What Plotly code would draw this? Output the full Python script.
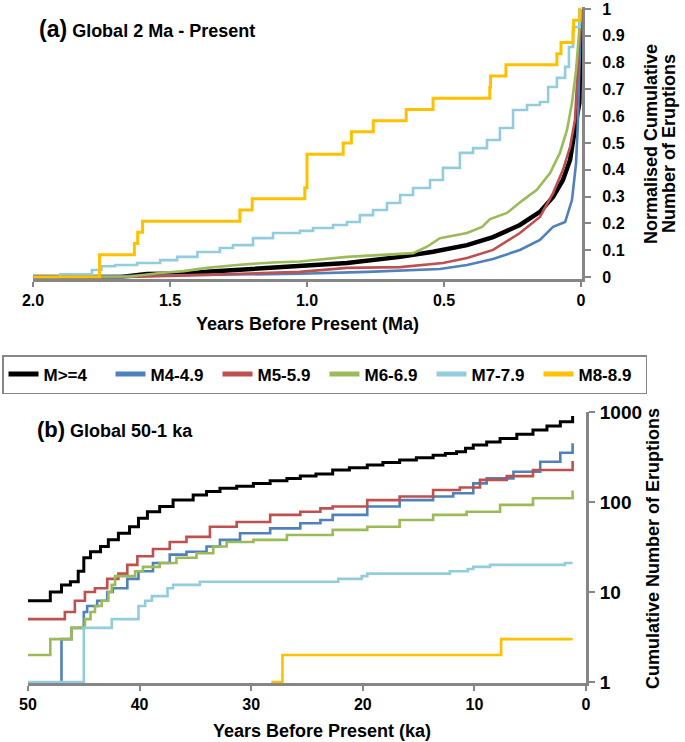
import plotly.graph_objects as go

W, H = 685, 742
FONT = "Liberation Sans, Arial, sans-serif"
GRAY = "#868686"

names = ["M>=4", "M4-4.9", "M5-5.9", "M6-6.9", "M7-7.9", "M8-8.9"]
colors = ["#000000", "#4f81bd", "#c0504d", "#9bbb59", "#93cddd", "#ffc000"]

# ---------------- (a) Global 2 Ma - Present : age (Ma), normalised cumulative ----------------
a_black_age = [2.0, 1.68, 1.584, 1.438, 1.365, 1.255, 1.124, 1.026, 0.854, 0.66, 0.54, 0.416, 0.321, 0.223, 0.15, 0.102, 0.066, 0.04, 0.022, 0.015, 0.006, 0.002, 0.0]
a_black_val = [0.0, 0.0, 0.011, 0.013, 0.02, 0.026, 0.035, 0.04, 0.052, 0.075, 0.094, 0.119, 0.149, 0.194, 0.243, 0.299, 0.362, 0.437, 0.537, 0.597, 0.65, 0.8, 1.0]

a_blue_age = [2.0, 1.755, 1.026, 0.78, 0.515, 0.416, 0.321, 0.223, 0.15, 0.102, 0.058, 0.033, 0.018, 0.011, 0.004, 0.0]
a_blue_val = [0.0, 0.003, 0.012, 0.019, 0.03, 0.045, 0.067, 0.101, 0.138, 0.187, 0.205, 0.287, 0.425, 0.586, 0.836, 1.0]

a_red_age = [2.0, 1.646, 1.365, 1.124, 1.026, 0.854, 0.66, 0.504, 0.416, 0.321, 0.223, 0.15, 0.102, 0.066, 0.04, 0.022, 0.011, 0.004, 0.0]
a_red_val = [0.0, 0.0, 0.008, 0.015, 0.019, 0.034, 0.037, 0.052, 0.071, 0.101, 0.164, 0.224, 0.313, 0.399, 0.485, 0.586, 0.772, 0.92, 1.0]

a_green_age = [2.0, 1.646, 1.536, 1.45, 1.365, 1.255, 1.124, 1.026, 0.854, 0.613, 0.562, 0.515, 0.416, 0.361, 0.332, 0.27, 0.212, 0.161, 0.113, 0.077, 0.051, 0.033, 0.018, 0.004, 0.0]
a_green_val = [0.0, 0.002, 0.015, 0.022, 0.034, 0.045, 0.054, 0.058, 0.075, 0.089, 0.113, 0.145, 0.164, 0.187, 0.216, 0.239, 0.287, 0.325, 0.388, 0.463, 0.549, 0.649, 0.772, 0.96, 1.0]

a_lblue_age = [2.0, 1.90, 1.785, 1.75, 1.70, 1.62, 1.536, 1.474, 1.40, 1.318, 1.27, 1.197, 1.124, 1.026, 0.978, 0.905, 0.854, 0.807, 0.759, 0.708, 0.66, 0.613, 0.551, 0.504, 0.442, 0.394, 0.343, 0.296, 0.248, 0.197, 0.15, 0.12, 0.088, 0.058, 0.044, 0.029, 0.005, 0.0]
a_lblue_val = [0.0, 0.01, 0.026, 0.04, 0.045, 0.052, 0.063, 0.075, 0.093, 0.108, 0.119, 0.145, 0.164, 0.172, 0.183, 0.194, 0.205, 0.231, 0.25, 0.276, 0.306, 0.332, 0.362, 0.407, 0.463, 0.481, 0.511, 0.556, 0.623, 0.642, 0.653, 0.709, 0.743, 0.784, 0.858, 0.933, 1.0, 1.0]

a_yellow_age = [2.0, 1.757, 1.630, 1.618, 1.600, 1.245, 1.200, 1.008, 1.000, 0.868, 0.838, 0.758, 0.638, 0.540, 0.333, 0.330, 0.274, 0.088, 0.073, 0.029, 0.027, 0.004, 0.0]
a_yellow_val = [0.0, 0.083, 0.125, 0.167, 0.208, 0.25, 0.292, 0.333, 0.458, 0.5, 0.542, 0.583, 0.625, 0.667, 0.708, 0.75, 0.792, 0.833, 0.875, 0.917, 0.958, 1.0, 1.0]

# ---------------- (b) Global 50-1 ka : age (ka), cumulative number ----------------
b_black_age = [50, 48.0, 47.0, 46.2, 45.5, 45.0, 44.4, 43.5, 42.8, 41.9, 40.9, 40.1, 39.3, 38.2, 37.0, 35.2, 34.0, 32.8, 31.3, 29.8, 28.3, 26.8, 25.6, 24.2, 22.7, 21.2, 19.6, 18.2, 16.7, 15.2, 13.7, 12.6, 11.6, 10.8, 10.1, 8.9, 7.7, 6.2, 4.75, 3.5, 2.3, 1.2]
b_black_n = [8, 10, 12, 13, 17, 24, 28, 32, 38, 45, 53, 66, 78, 89, 105, 120, 131, 142, 150, 161, 172, 183, 194, 205, 227, 240, 258, 275, 293, 310, 331, 345, 362, 395, 430, 465, 509, 565, 631, 700, 781, 903]

b_blue_age = [47.0, 47.0, 46.1, 45.0, 44.7, 43.8, 42.9, 42.4, 41.1, 40.1, 38.8, 37.3, 35.8, 34.0, 32.8, 31.0, 28.3, 25.6, 23.8, 22.7, 19.6, 16.7, 13.7, 11.9, 10.1, 8.9, 6.5, 4.1, 2.3, 1.2]
b_blue_n = [1, 3, 4, 6, 7, 8, 10, 11, 14, 17, 21, 26, 28, 32, 38, 45, 51, 58, 63, 72, 89, 105, 115, 125, 161, 183, 217, 280, 353, 449]

b_red_age = [50, 46.7, 45.8, 44.9, 44.0, 42.9, 41.9, 41.1, 40.2, 38.8, 37.3, 35.8, 33.7, 31.3, 28.3, 25.6, 23.8, 22.7, 19.6, 16.7, 13.7, 11.3, 9.5, 7.1, 4.75, 1.2]
b_red_n = [5, 6, 8, 10, 11, 14, 16, 20, 25, 30, 36, 41, 53, 60, 72, 78, 85, 89, 105, 115, 136, 145, 176, 194, 227, 286]

b_green_age = [50, 48.0, 46.1, 44.9, 44.4, 44.0, 43.4, 42.8, 42.5, 42.2, 40.4, 39.7, 38.2, 36.7, 34.9, 33.4, 32.2, 29.8, 26.8, 22.7, 19.6, 16.7, 13.7, 10.7, 7.7, 4.75, 1.2]
b_green_n = [2, 3, 4, 5, 6, 7, 8, 10, 12, 15, 17, 19, 21, 24, 27, 32, 36, 38, 43, 49, 53, 63, 72, 78, 93, 110, 134]

b_lblue_age = [50, 45.0, 42.5, 40.1, 39.5, 38.9, 37.5, 37.0, 34.6, 22.2, 20.1, 19.6, 12.2, 10.6, 10.1, 8.6, 1.9, 1.2]
b_lblue_n = [1, 4, 5, 7, 8, 9, 11, 12, 13, 14, 15, 16, 17, 18, 19, 20, 21, 21]

b_yellow_age = [28.2, 27.2, 7.6, 1.2]
b_yellow_n = [1, 2, 3, 3]

a_x_ticks = [2.0, 1.5, 1.0, 0.5, 0.0]
a_x_labels = ["2.0", "1.5", "1.0", "0.5", "0"]
a_y_ticks = [0, 0.1, 0.2, 0.3, 0.4, 0.5, 0.6, 0.7, 0.8, 0.9, 1.0]
a_y_labels = ["0", "0.1", "0.2", "0.3", "0.4", "0.5", "0.6", "0.7", "0.8", "0.9", "1"]
b_x_ticks = [50, 40, 30, 20, 10, 0]
b_x_labels = ["50", "40", "30", "20", "10", "0"]
b_y_ticks = [1, 10, 100, 1000]
b_y_labels = ["1", "10", "100", "1000"]

fig = go.Figure()

a_series = [(a_black_age, a_black_val, 4.5, "linear"),
            (a_blue_age, a_blue_val, 2.6, "linear"),
            (a_red_age, a_red_val, 2.6, "linear"),
            (a_green_age, a_green_val, 2.6, "linear"),
            (a_lblue_age, a_lblue_val, 2.6, "hv"),
            (a_yellow_age, a_yellow_val, 3.0, "hv")]
for (xs, ys, w, shp), nm, c in zip(a_series, names, colors):
    fig.add_trace(go.Scatter(x=xs, y=ys, mode="lines", name=nm, showlegend=False,
                             line=dict(color=c, width=w, shape=shp), xaxis="x", yaxis="y"))

b_series = [(b_black_age, b_black_n, 3.0), (b_blue_age, b_blue_n, 2.6), (b_red_age, b_red_n, 2.6),
            (b_green_age, b_green_n, 2.6), (b_lblue_age, b_lblue_n, 2.6), (b_yellow_age, b_yellow_n, 2.6)]
for (xs, ys, w), nm, c in zip(b_series, names, colors):
    fig.add_trace(go.Scatter(x=xs, y=ys, mode="lines", name=nm, showlegend=False,
                             line=dict(color=c, width=w, shape="hv"), xaxis="x2", yaxis="y2"))

# legend entries
for nm, c in zip(names, colors):
    fig.add_trace(go.Scatter(x=[None], y=[None], mode="lines", name=nm, showlegend=True,
                             line=dict(color=c, width=5), xaxis="x", yaxis="y"))

def px_x(p):
    return p / W

def px_y(p):
    return 1 - p / H

tickfont = dict(family=FONT, size=16, color="black", weight="bold")
axis_common = dict(showline=True, linecolor=GRAY, linewidth=3, ticks="outside", tickcolor=GRAY,
                   tickwidth=2, showgrid=False, zeroline=False, layer="below traces",
                   fixedrange=True, automargin=False)

fig.update_layout(
    width=W, height=H, margin=dict(l=0, r=0, t=0, b=0, autoexpand=False),
    paper_bgcolor="white", plot_bgcolor="white",
    font=dict(family=FONT, color="black"),
    xaxis=dict(domain=[px_x(33), px_x(582.1)], range=[2.0, -0.004], anchor="y",
               tickvals=a_x_ticks, ticktext=a_x_labels, ticklen=5, tickfont=tickfont, **axis_common),
    yaxis=dict(domain=[px_y(278.6), px_y(7.4)], range=[-0.006, 1.006], anchor="x", side="right",
               tickvals=a_y_ticks, ticktext=a_y_labels, ticklen=6, ticklabelstandoff=8,
               tickfont=tickfont, **axis_common),
    xaxis2=dict(domain=[px_x(28), px_x(586)], range=[50, 0], anchor="y2",
                tickvals=b_x_ticks, ticktext=b_x_labels, ticklen=5, tickfont=tickfont, **axis_common),
    yaxis2=dict(domain=[px_y(683.1), px_y(412)], range=[-0.012, 3.0], type="log", anchor="x2", side="right",
                tickvals=b_y_ticks, ticktext=b_y_labels, ticklen=6, ticklabelstandoff=1,
                tickfont=dict(tickfont, size=19), **axis_common),
    legend=dict(orientation="h", xref="container", yref="container", x=px_x(2), y=px_y(355),
                xanchor="left", yanchor="top",
                bordercolor=GRAY, borderwidth=1.5, bgcolor="white",
                font=dict(family=FONT, size=17, color="black", weight="bold"),
                entrywidth=62, entrywidthmode="pixels", tracegroupgap=0, itemwidth=30),
)

title_font = dict(family=FONT, size=18, color="black", weight="bold")
ann = [
    dict(x=px_x(37), y=px_y(29), text="<span style='font-size:23px'>(a)</span> Global 2 Ma - Present",
         xanchor="left", yanchor="middle"),
    dict(x=px_x(35), y=px_y(429), text="<span style='font-size:22px'>(b)</span> Global 50-1 ka",
         xanchor="left", yanchor="middle"),
    dict(x=px_x(307), y=px_y(324), text="Years Before Present (Ma)", xanchor="center", yanchor="middle"),
    dict(x=px_x(322), y=px_y(731), text="Years Before Present (ka)", xanchor="center", yanchor="middle"),
    dict(x=px_x(651), y=px_y(144), text="Normalised Cumulative", textangle=-90,
         xanchor="center", yanchor="middle"),
    dict(x=px_x(669), y=px_y(144), text="Number of Eruptions", textangle=-90,
         xanchor="center", yanchor="middle"),
    dict(x=px_x(653), y=px_y(549), text="Cumulative Number of Eruptions", textangle=-90,
         xanchor="center", yanchor="middle"),
]
for a in ann:
    fig.add_annotation(xref="paper", yref="paper", showarrow=False, font=title_font, **a)

fig.write_html("out.html", config={"displayModeBar": False},
               post_script="document.body.style.margin='0';")
